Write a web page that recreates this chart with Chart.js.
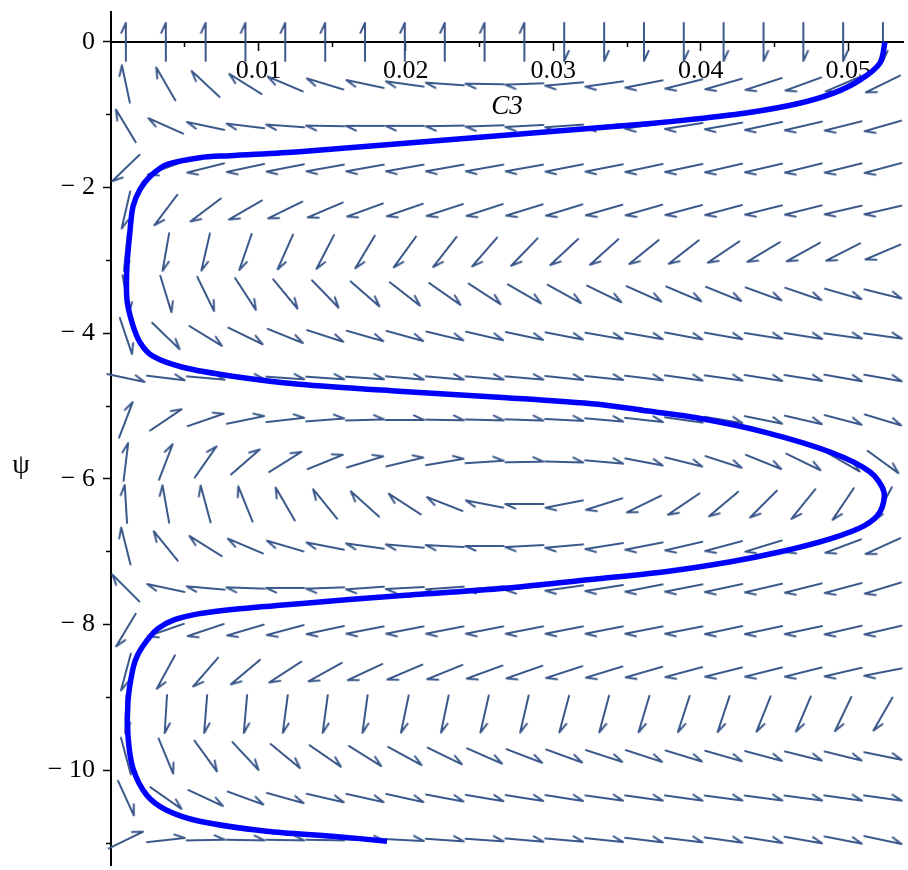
<!DOCTYPE html>
<html><head><meta charset="utf-8">
<script src="https://cdn.jsdelivr.net/npm/chart.js@4.4.1/dist/chart.umd.min.js"></script>
<style>html,body{margin:0;padding:0;background:#fff;}#wrap{width:908px;height:870px;}</style>
</head><body><div id="wrap"><canvas id="c" width="908" height="870"></canvas></div>
<script>
// ---- trajectory ----
const curveC3 = [0.05250,0.05216,0.05081,0.04905,0.04655,0.04318,0.03980,0.03642,0.03304,0.02966,0.02628,0.01953,0.01277,0.00804,0.00601,0.00378,0.00264,0.00196,0.00149,0.00128,0.00108,0.00108,0.00142,0.00196,0.00284,0.00486,0.00824,0.01277,0.01953,0.02628,0.03304,0.03642,0.03980,0.04432,0.04878,0.05149,0.05243,0.05216,0.05108,0.04878,0.04541,0.04203,0.03757,0.03304,0.02628,0.01953,0.01277,0.00804,0.00601,0.00432,0.00318,0.00243,0.00182,0.00149,0.00115,0.00115,0.00149,0.00243,0.00378,0.00601,0.01054,0.01500,0.01872];
const curvePsi = [0,-0.288,-0.521,-0.699,-0.849,-0.973,-1.055,-1.123,-1.178,-1.233,-1.288,-1.397,-1.507,-1.562,-1.589,-1.685,-1.849,-2.027,-2.260,-2.616,-3.082,-3.534,-3.849,-4.123,-4.315,-4.466,-4.589,-4.699,-4.795,-4.877,-4.973,-5.068,-5.164,-5.356,-5.630,-5.904,-6.178,-6.452,-6.644,-6.822,-7.000,-7.137,-7.274,-7.370,-7.507,-7.603,-7.712,-7.795,-7.849,-7.932,-8.055,-8.219,-8.411,-8.603,-9.055,-9.521,-9.973,-10.342,-10.548,-10.699,-10.836,-10.904,-10.973];

// ---- direction field grid ----
const gridC3 = [0.00101,0.00372,0.00642,0.00912,0.01182,0.01453,0.01723,0.01993,0.02264,0.02534,0.02804,0.03074,0.03345,0.03615,0.03885,0.04155,0.04426,0.04696,0.04966,0.05236];
const gridPsi = [0,-0.577,-1.153,-1.730,-2.307,-2.884,-3.460,-4.037,-4.614,-5.190,-5.767,-6.344,-6.921,-7.497,-8.074,-8.651,-9.227,-9.804,-10.381,-10.958];
// screen direction of each arrow, degrees clockwise from "pointing right"
const arrowAngle = [
 [-90,-90,-90,-90,-90,-90,-90,-90,-90,-90,-90,90,90,90,90,90,90,90,90,90],
 [-102,-120,-137,-148,-157,-163,-168,-172,-176,-179,178,175,172,169,166,164,162,160,157,154],
 [-121,-156,-168,-173,-176,-179,180,180,179,178,177,176,174,172,171,170,168,167,166,164],
 [136,160,166,168,169,170,170,170,170,170,170,169,169,168,168,167,167,166,166,165],
 [103,127,143,150,154,157,160,161,162,162,163,163,164,164,165,165,166,166,167,167],
 [96,100,103,109,114,117.5,121,126,128,131,134,137,138,141,142,146,149,151,153,157],
 [80,73,64,57,50.5,46,41,38,35,33,30,29,26,24,23,22,20,19,16,14],
 [71.5,44,31.5,26,22,18,16,15.5,13.4,13,12,11,10,10,10.7,10,9,9,8,8],
 [12,7,5,4,4,4,4,5,5,5,5,6,6,7,8,8,9,9,10,10],
 [-69,-34,-19,-11.6,-6.4,-4.3,-1.6,0,1,1.5,2,3,5,6.3,8,9.5,11.5,13,14.7,16.8],
 [-83,-69,-55,-41,-32,-22,-17,-13.4,-9.5,-3.7,-1,1.6,5,10.8,14,18,22,26,30,36],
 [-93.5,-100,-105,-112,-120,-129,-138,-147,-158.6,-169,180,169,162.5,154,146,140,135,129,124,118],
 [-104,-129,-148,-157,-163.6,-169,-172,-175,-177,180,177,175,171,169,167,165,163,161.5,159.6,155.6],
 [-135,-168,-175,-178,180,178,176,177,176,175,174,172,171,169,169,168,167,166,165,163],
 [121,161,161.6,163.6,165,168,169,169,169,169,169,169,169,169,169,168,168,168,167,167],
 [105,118.6,131,140,147,151,155,157,158,160,160.7,162,163,164,165,166,166,166,167,169],
 [92,93.5,94.5,95,97.6,97.7,97.8,101.8,101.8,102.8,103,105,105,106.7,108,108.4,111.8,113,115.6,120],
 [75,67.6,54,47,39.5,34.6,32,28.6,26,23.7,21,20,18,18,17,16,15,14,13.8,11.6],
 [65.5,35,25,20,15.6,13,12.6,12.4,10.7,9.6,9,9,8,8,8,7.6,7.6,7.6,8,8],
 [-26,-6.3,-1,1,1,1,2,3,4,4,5,5,6,7,7,8,9,10,11,12]
];

// ---- ticks ----
const xTickValues = [0.01,0.02,0.03,0.04,0.05];
const xTickLabels = ['0.01','0.02','0.03','0.04','0.05'];
const xMinorValues = [0.005,0.015,0.025,0.035,0.045];
const yTickValues = [0,-2,-4,-6,-8,-10];
const yTickLabels = ['0','\u2212 2','\u2212 4','\u2212 6','\u2212 8','\u2212 10'];
const yMinorValues = [-1,-3,-5,-7,-9,-11];

const X_MIN = 0, X_MAX = 0.05372, Y_MIN = -11.30, Y_MAX = 0.411;
const FONT = 'Liberation Serif';
const ARROW_COLOR = '#3b588b';

function makeArrow() {
  const S = 48, c = document.createElement('canvas');
  c.width = S; c.height = S;
  const g = c.getContext('2d');
  g.strokeStyle = ARROW_COLOR; g.lineWidth = 2; g.lineCap = 'round'; g.lineJoin = 'round';
  const L = 38, h = 11, a = 25 * Math.PI / 180;
  const x0 = S / 2 - L / 2, x1 = S / 2 + L / 2, y = S / 2;
  g.beginPath(); g.moveTo(x0, y); g.lineTo(x1, y);
  g.lineTo(x1 - h * Math.cos(a), y - h * Math.sin(a)); g.stroke();
  return c;
}
const arrowImg = makeArrow();

const arrowPoints = [], arrowRot = [];
gridPsi.forEach((p, r) => gridC3.forEach((cv, k) => {
  arrowPoints.push({x: cv, y: p}); arrowRot.push(arrowAngle[r][k]);
}));
const curvePoints = curveC3.map((cv, i) => ({x: cv, y: curvePsi[i]}));

const psiLabel = {
  id: 'psiLabel',
  afterDraw(chart) {
    const ctx = chart.ctx;
    ctx.save();
    ctx.font = '28px "' + FONT + '"';
    ctx.fillStyle = '#000'; ctx.textAlign = 'center'; ctx.textBaseline = 'middle';
    ctx.fillText('\u03C8', 21, 466);
    ctx.restore();
  }
};

function zeroPad(s) { s.paddingTop = 0; s.paddingBottom = 0; s.paddingLeft = 0; s.paddingRight = 0; }

new Chart(document.getElementById('c'), {
  type: 'scatter',
  data: { datasets: [
    { data: curvePoints, showLine: true, borderColor: '#0000ff', borderWidth: 5.5,
      pointRadius: 0, tension: 0.3, fill: false },
    { data: arrowPoints, showLine: false, pointStyle: arrowImg, pointRadius: 2,
      pointRotation: c => arrowRot[c.dataIndex], clip: false }
  ]},
  options: {
    responsive: false, animation: false, events: [],
    layout: { padding: { left: 0, right: 2, top: 12, bottom: -1 } },
    plugins: { legend: { display: false }, tooltip: { enabled: false } },
    scales: {
      x: {
        type: 'linear', min: X_MIN, max: X_MAX, position: { y: 0 },
        afterBuildTicks: s => { s.ticks = xTickValues.map(v => ({ value: v })); },
        ticks: { callback: (v, i) => xTickLabels[i], font: { family: FONT, size: 26 }, color: '#000',
                 padding: 6, maxRotation: 0, autoSkip: false },
        grid: { drawOnChartArea: false, tickLength: 8, tickWidth: 1.5, tickColor: '#000' },
        border: { display: true, color: '#000', width: 2 },
        title: { display: true, text: 'C3', color: '#000',
                 font: { family: FONT, size: 27, style: 'italic' }, padding: { top: 0, bottom: -81 } },
        afterFit: s => { s.height = 0; zeroPad(s); }
      },
      y: {
        type: 'linear', min: Y_MIN, max: Y_MAX, position: 'left',
        afterBuildTicks: s => { s.ticks = yTickValues.map(v => ({ value: v })); },
        ticks: { callback: (v, i) => yTickLabels[i], font: { family: FONT, size: 26 }, color: '#000',
                 padding: 8, autoSkip: false },
        grid: { drawOnChartArea: false, tickLength: 8, tickWidth: 1.5, tickColor: '#000' },
        border: { display: true, color: '#000', width: 2 },
        afterFit: s => { s.width = 111; zeroPad(s); }
      },
      x2: {
        type: 'linear', min: X_MIN, max: X_MAX, position: { y: 0 },
        afterBuildTicks: s => { s.ticks = xMinorValues.map(v => ({ value: v })); },
        ticks: { display: false },
        grid: { drawOnChartArea: false, tickLength: 5, tickWidth: 1.5, tickColor: '#000' },
        border: { display: false },
        afterFit: s => { s.height = 0; zeroPad(s); }
      },
      y2: {
        type: 'linear', min: Y_MIN, max: Y_MAX, position: { x: 0 },
        afterBuildTicks: s => { s.ticks = yMinorValues.map(v => ({ value: v })); },
        ticks: { display: false },
        grid: { drawOnChartArea: false, tickLength: 5, tickWidth: 1.5, tickColor: '#000' },
        border: { display: false },
        afterFit: s => { s.width = 0; zeroPad(s); }
      }
    }
  },
  plugins: [psiLabel]
});
</script>
</body></html>
